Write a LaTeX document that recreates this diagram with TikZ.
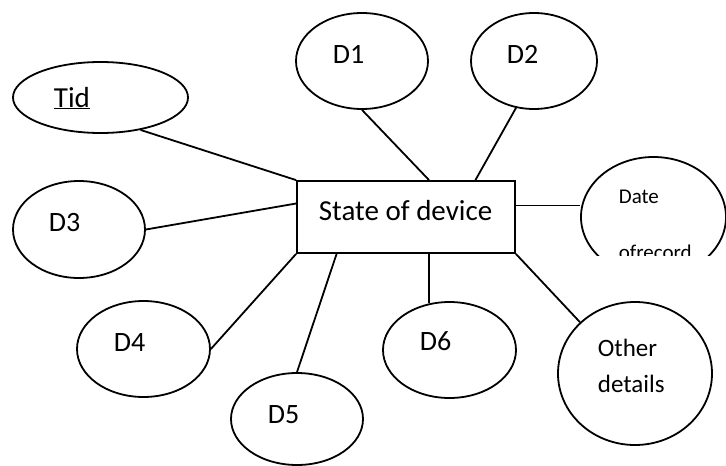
\documentclass[tikz,border=0pt]{standalone}
\usepackage{fontspec}
\setmainfont{Carlito}
\usetikzlibrary{shapes.geometric}
\begin{document}
\begin{tikzpicture}[x=1pt,y=-1pt,line width=1.8pt,
  attr/.style 2 args={draw,ellipse,inner sep=0pt,minimum width=#1,minimum height=#2},
  entity/.style={draw,rectangle,inner sep=0pt,minimum width=218,minimum height=72},
  txt/.style={anchor=base west,inner sep=0pt,font=\fontsize{#1}{#1}\selectfont},
  txt/.default=28]
\useasboundingbox (0,0) rectangle (726,466);

% central entity
\node[entity] (st) at (406,217) {};
\node[txt=29] (stlbl) at (318,220) {State of device};

% attributes
\node[attr={175}{71}] (tid) at (100.5,97.5) {};
\node[txt=29] (tidlbl) at (53,107) {\underline{Tid}};

\node[attr={132}{96}] (d1) at (362,61) {};
\node[txt] (d1lbl) at (332,63) {D1};

\node[attr={126}{96}] (d2) at (534,61) {};
\node[txt] (d2lbl) at (506,63) {D2};

\node[attr={132}{97}] (d3) at (79,229.5) {};
\node[txt] (d3lbl) at (48,231) {D3};

\node[attr={133}{96}] (d4) at (143.5,349) {};
\node[txt] (d4lbl) at (113,351) {D4};

\node[attr={132}{92}] (d5) at (297,419) {};
\node[txt] (d5lbl) at (267,423) {D5};

\node[attr={133}{96}] (d6) at (449.5,350) {};
\node[txt] (d6lbl) at (419,350) {D6};

\node[attr={154}{143}] (other) at (635,373.5) {};
\node[txt=25] (othlbl1) at (597,356) {Other};
\node[txt=25] (othlbl2) at (597,392) {details};

% date attribute, cut off at the bottom
\begin{scope}
  \clip (0,0) rectangle (726,255);
  \node[attr={145}{120}] (date) at (653.5,217) {};
  \node[txt=21] (datelbl1) at (618,203) {Date};
  \node[txt=21] (datelbl2) at (618,259) {ofrecord};
\end{scope}

% connectors
\draw (tid.-39) -- (st.north west);
\draw (d1.south) -- (st.58.6);
\draw (d2.-111.6) -- (st.28.6);
\draw (d3.east) -- (st.173.7);
\draw (d4.east) -- (st.south west);
\draw (d5.north) -- (st.208.6);
\draw (st.-58.6) -- (st.-58.6 |- d6.114);
\draw (st.6.3) -- (st.6.3 -| date.west);
\draw (other.137.9) -- (st.south east);
\end{tikzpicture}
\end{document}
